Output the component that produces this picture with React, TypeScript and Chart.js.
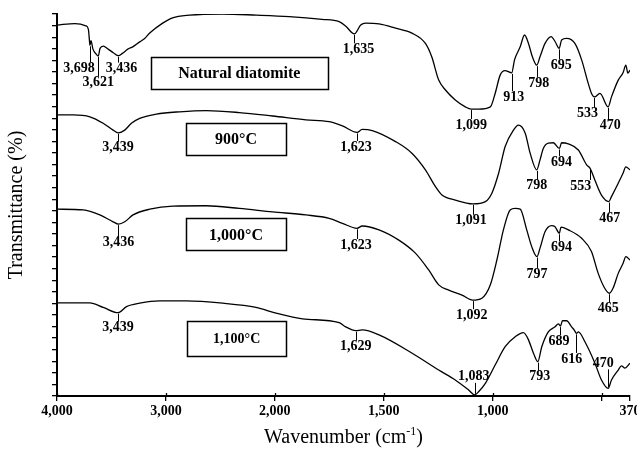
import React, { useEffect, useRef } from 'react';
import { Chart, registerables } from 'chart.js';

Chart.register(...registerables);

const FONT = '"Liberation Serif", "Times New Roman", Times, serif';

// ---------- axis ----------
const xTickValues = [4000, 3000, 2000, 1500, 1000, 500, 370];
const xTickLabels = ['4,000', '3,000', '2,000', '1,500', '1,000', '', '370'];
const seriesNames = ['Natural diatomite', '900°C', '1,000°C', '1,100°C'];

// ---------- spectra (wavenumber cm-1, transmittance a.u.) ----------
const natWn = [4000, 3835, 3735, 3712, 3702, 3698, 3688, 3670, 3640, 3621, 3605, 3575, 3530, 3480, 3436, 3400, 3350, 3305, 3241, 3195, 3149, 3030, 2939, 2783, 2481, 2170, 1934, 1783, 1705, 1673, 1635, 1606, 1583, 1522, 1446, 1371, 1309, 1280, 1248, 1217, 1172, 1126, 1099, 1065, 1011, 989, 966, 944, 913, 900, 874, 854, 836, 818, 798, 783, 760, 732, 714, 695, 684, 661, 623, 592, 562, 545, 533, 508, 470, 455, 424, 402, 389, 380, 370];
const natT = [97.1, 97.5, 96.9, 96.0, 93.0, 91.8, 93.0, 90.8, 89.5, 89.0, 91.0, 91.6, 90.8, 89.8, 89.1, 89.7, 90.8, 91.4, 92.7, 93.6, 95.0, 97.6, 99.0, 99.7, 100, 99.7, 99.3, 98.6, 98.0, 96.7, 94.8, 97.1, 97.6, 97.4, 96.3, 95.0, 92.3, 88.8, 82.7, 80.1, 77.5, 75.7, 75.1, 75.1, 75.7, 79.2, 84.0, 85.2, 84.6, 88.0, 91.4, 94.5, 92.3, 88.8, 86.6, 88.8, 92.3, 94.1, 92.8, 91.0, 93.2, 93.6, 92.3, 88.0, 81.9, 79.0, 78.3, 79.2, 75.7, 78.3, 82.7, 84.6, 86.6, 84.5, 85.3];

const t900Wn = [4000, 3851, 3698, 3576, 3485, 3439, 3378, 3317, 3241, 3088, 2875, 2630, 2326, 2021, 1858, 1751, 1690, 1623, 1599, 1553, 1446, 1370, 1309, 1263, 1233, 1172, 1091, 1034, 1004, 973, 943, 905, 882, 851, 828, 798, 783, 768, 745, 722, 694, 684, 653, 607, 569, 553, 531, 501, 467, 455, 424, 402, 389, 370];
const t900T = [73.6, 73.6, 73.1, 71.4, 69.6, 68.9, 69.6, 71.4, 72.7, 73.8, 74.4, 74.7, 74.2, 73.3, 72.3, 71.8, 70.7, 69.0, 69.8, 69.5, 66.6, 63.5, 59.2, 54.8, 52.6, 51.3, 50.3, 50.9, 53.1, 58.3, 65.3, 69.6, 70.9, 68.8, 63.5, 59.2, 61.8, 64.8, 66.2, 66.3, 64.8, 66.3, 66.0, 64.4, 60.5, 59.6, 56.5, 52.6, 50.9, 52.2, 55.7, 58.3, 60.0, 59.2];

const t1000Wn = [4000, 3759, 3607, 3485, 3436, 3378, 3302, 3149, 2936, 2630, 2326, 2021, 1858, 1751, 1690, 1623, 1599, 1522, 1431, 1355, 1294, 1248, 1202, 1141, 1092, 1050, 1011, 981, 951, 920, 897, 874, 844, 821, 797, 783, 760, 730, 714, 694, 687, 653, 592, 547, 516, 486, 465, 448, 424, 402, 389, 370];
const t1000T = [48.9, 48.7, 47.4, 45.6, 45.0, 45.6, 47.4, 48.9, 49.7, 49.8, 49.1, 48.2, 47.4, 46.5, 45.2, 43.9, 44.5, 43.5, 40.8, 37.4, 33.0, 29.1, 27.7, 26.4, 25.1, 25.6, 29.1, 35.6, 43.5, 48.7, 49.1, 48.9, 43.5, 39.1, 36.5, 38.7, 43.0, 44.6, 44.3, 42.6, 44.2, 43.5, 41.3, 37.8, 32.1, 28.2, 26.9, 28.2, 32.1, 34.7, 36.5, 35.6];

const t1100Wn = [4000, 3698, 3576, 3439, 3362, 3241, 3058, 2813, 2479, 2173, 1995, 1873, 1705, 1675, 1629, 1599, 1522, 1370, 1248, 1172, 1111, 1083, 1065, 1034, 989, 943, 897, 859, 836, 813, 793, 775, 745, 714, 699, 689, 680, 661, 638, 625, 616, 607, 577, 531, 501, 470, 455, 424, 409, 393, 370];
const t1100T = [24.4, 24.4, 23.2, 21.8, 23.4, 24.3, 24.9, 24.9, 24.3, 23.2, 21.7, 20.2, 19.2, 18.1, 17.1, 17.3, 16.0, 11.2, 6.8, 4.2, 1.6, 0.3, 1.1, 3.3, 8.1, 12.9, 15.5, 16.6, 14.7, 11.2, 9.0, 12.9, 16.8, 18.1, 18.9, 18.3, 19.7, 19.7, 18.1, 17.2, 16.4, 16.8, 14.2, 8.6, 4.2, 2.0, 4.2, 6.8, 7.9, 7.3, 8.6];

// ---------- peak annotations (wavenumbers) ----------
const natPeaks = [3698, 3621, 3436, 1635, 1099, 913, 798, 695, 533, 470];
const t900Peaks = [3439, 1623, 1091, 798, 694, 553, 467];
const t1000Peaks = [3436, 1623, 1092, 797, 694, 465];
const t1100Peaks = [3439, 1629, 1083, 793, 689, 616, 470];

// ---------- layout (pixel offsets of peak labels from the curve) ----------
const peakLabelOffsets = [
  [[-11, 23], [0, 26], [3, 13], [4, 15.5], [0, 16], [2, 24.5], [2, 18], [2, 17], [-7, 16.5], [2, 19]],
  [[0, 15], [-1, 14.5], [-2, 17], [0, 16], [2, 13.5], [-9.5, 17.7], [1, 16.7]],
  [[0, 18.6], [-1, 16.7], [-1, 15], [0, 17.4], [2, 14], [-1, 15]],
  [[0, 15], [0, 16], [-1, -18], [2, 15], [-1.5, 15], [-4.6, 25.6], [-5, -25]],
];
// box centres in data coordinates, sizes in px
const boxLayout = [
  { wn: 2326, T: 84.5, w: 177, h: 32, size: 16 },
  { wn: 2356, T: 67.2, w: 100, h: 32, size: 16 },
  { wn: 2356, T: 42.3, w: 100, h: 32, size: 16 },
  { wn: 2351, T: 15.1, w: 99, h: 35, size: 14 },
];

function toAxis(wn: number): number {
  return wn >= 2000 ? (4000 - wn) / 1000 : 2 + (2000 - wn) / 500;
}
function fmt(n: number): string {
  return n >= 1000 ? `${Math.floor(n / 1000)},${String(n % 1000).padStart(3, '0')}` : String(n);
}

const allWn = [natWn, t900Wn, t1000Wn, t1100Wn];
const allT = [natT, t900T, t1000T, t1100T];
const allPeaks = [natPeaks, t900Peaks, t1000Peaks, t1100Peaks];

function valueAt(si: number, wn: number): number {
  const w = allWn[si];
  const t = allT[si];
  for (let i = 0; i < w.length - 1; i++) {
    if (wn <= w[i] && wn >= w[i + 1]) {
      const f = (w[i] - wn) / (w[i] - w[i + 1] || 1);
      return t[i] + f * (t[i + 1] - t[i]);
    }
  }
  return t[t.length - 1];
}

const annotationPlugin = {
  id: 'ftirAnnotations',
  afterDraw(chart: any) {
    const { ctx, scales, chartArea } = chart;
    const xs = scales.x;
    const ys = scales.y;
    ctx.save();
    ctx.fillStyle = '#000';
    ctx.strokeStyle = '#000';

    // x tick marks crossing into the plot a little
    ctx.lineWidth = 1.3;
    xTickValues.slice(0, 6).forEach((v) => {
      const px = Math.round(xs.getPixelForValue(toAxis(v))) + 0.5;
      ctx.beginPath();
      ctx.moveTo(px, chartArea.bottom);
      ctx.lineTo(px, chartArea.bottom - 3);
      ctx.stroke();
    });

    // peaks
    ctx.font = `bold 14px ${FONT}`;
    ctx.textAlign = 'center';
    ctx.textBaseline = 'middle';
    ctx.lineWidth = 1;
    allPeaks.forEach((peaks, si) => {
      peaks.forEach((wn, pi) => {
        const px = xs.getPixelForValue(toAxis(wn));
        const py = ys.getPixelForValue(valueAt(si, wn));
        const [dx, dy] = peakLabelOffsets[si][pi];
        const ly = py + dy;
        ctx.beginPath();
        if (dy > 0) {
          ctx.moveTo(Math.round(px) + 0.5, py + 1);
          ctx.lineTo(Math.round(px) + 0.5, ly - 6);
        } else {
          ctx.moveTo(Math.round(px) + 0.5, ly + 6);
          ctx.lineTo(Math.round(px) + 0.5, py - 1);
        }
        ctx.stroke();
        ctx.fillText(fmt(wn), px + dx, ly);
      });
    });

    // boxes
    boxLayout.forEach((b, i) => {
      const cx = xs.getPixelForValue(toAxis(b.wn));
      const cy = ys.getPixelForValue(b.T);
      ctx.fillStyle = '#fff';
      ctx.fillRect(cx - b.w / 2, cy - b.h / 2, b.w, b.h);
      ctx.lineWidth = 1.5;
      ctx.strokeRect(Math.round(cx - b.w / 2) + 0.5, Math.round(cy - b.h / 2) + 0.5, b.w, b.h);
      ctx.fillStyle = '#000';
      ctx.font = `bold ${b.size}px ${FONT}`;
      ctx.fillText(seriesNames[i], cx, cy + 1);
    });

    // axis titles
    const midX = (chartArea.left + chartArea.right) / 2;
    const midY = (chartArea.top + chartArea.bottom) / 2;
    ctx.font = `20px ${FONT}`;
    ctx.save();
    ctx.translate(17, midY);
    ctx.rotate(-Math.PI / 2);
    ctx.fillText('Transmittance (%)', 0, 0);
    ctx.restore();

    const main = 'Wavenumber (cm';
    const sup = '-1';
    const end = ')';
    ctx.font = `20px ${FONT}`;
    const w1 = ctx.measureText(main).width;
    const w3 = ctx.measureText(end).width;
    ctx.font = `12px ${FONT}`;
    const w2 = ctx.measureText(sup).width;
    const x0 = midX - (w1 + w2 + w3) / 2;
    const ty = 438;
    ctx.textAlign = 'left';
    ctx.font = `20px ${FONT}`;
    ctx.fillText(main, x0, ty);
    ctx.font = `12px ${FONT}`;
    ctx.fillText(sup, x0 + w1, ty - 6);
    ctx.font = `20px ${FONT}`;
    ctx.fillText(end, x0 + w1 + w2, ty);
    ctx.restore();
  },
};

export default function App() {
  const ref = useRef<HTMLCanvasElement | null>(null);
  useEffect(() => {
    if (!ref.current) return;
    const datasets = allWn.map((w, si) => ({
      label: seriesNames[si],
      data: w.map((wn, i) => ({ x: toAxis(wn), y: allT[si][i] })),
      borderColor: '#000',
      borderWidth: 1.3,
      pointRadius: 0,
      fill: false,
      cubicInterpolationMode: 'monotone' as const,
    }));
    const chart = new Chart(ref.current, {
      type: 'line',
      data: { datasets },
      options: {
        animation: false,
        responsive: false,
        devicePixelRatio: 1,
        layout: { padding: { left: 0, top: 14, right: 7, bottom: 0 } },
        plugins: { legend: { display: false }, tooltip: { enabled: false } },
        scales: {
          x: {
            type: 'linear',
            min: 0,
            max: toAxis(370),
            afterBuildTicks: (s: any) => {
              s.ticks = xTickValues.map((v) => ({ value: toAxis(v) }));
            },
            afterFit: (s: any) => {
              s.height = 57;
              s.paddingLeft = 0;
              s.paddingRight = 0;
            },
            ticks: {
              autoSkip: false,
              maxRotation: 0,
              padding: 2,
              color: '#000',
              font: { family: FONT, size: 14, weight: 'bold' },
              callback: (_v: any, i: number) => xTickLabels[i],
            },
            grid: { drawOnChartArea: false, drawTicks: true, tickLength: 5, color: '#000', lineWidth: 1.3 },
            border: { display: true, color: '#000', width: 2 },
          },
          y: {
            type: 'linear',
            min: 0,
            max: 100,
            afterFit: (s: any) => {
              s.width = 57;
              s.paddingTop = 0;
              s.paddingBottom = 0;
            },
            ticks: { count: 34, autoSkip: false, callback: () => '', padding: 0 },
            grid: { drawOnChartArea: false, drawTicks: true, tickLength: 5, color: '#000', lineWidth: 1.3 },
            border: { display: true, color: '#000', width: 2 },
          },
        },
      },
      plugins: [annotationPlugin],
    });
    return () => chart.destroy();
  }, []);
  return (
    <div style={{ position: 'absolute', left: 0, top: 0, width: 637, height: 453, background: '#fff' }}>
      <canvas ref={ref} width={637} height={453} style={{ display: 'block' }} />
    </div>
  );
}
